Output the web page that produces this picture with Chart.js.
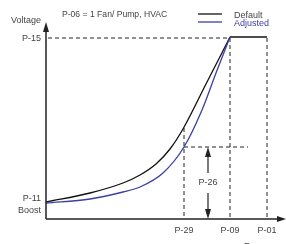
<!DOCTYPE html>
<html>
<head>
<meta charset="utf-8">
<script src="https://cdn.jsdelivr.net/npm/chart.js@4"></script>
<style>
  html, body { margin: 0; padding: 0; background: #fff; }
  #wrap { width: 286px; height: 244px; }
</style>
</head>
<body>
<div id="wrap"><canvas id="myChart" width="286" height="244"></canvas></div>
<script>
// curve points (frequency, voltage) in arbitrary units
const defaultFreq = [0, 44, 77, 94, 110, 124, 137, 160, 184];
const defaultVolt = [17, 26, 36, 44, 55, 70, 90, 135, 182];
const adjustedFreq = [0, 44, 77, 94, 117, 138, 156, 170, 184];
const adjustedVolt = [16, 20, 27, 32, 46, 72, 109, 146, 182];
// flat part after P-09 (both curves share it)
const topFreq = [184, 221];
const topVolt = [182, 182];

// parameter markers
const freqLabels = ['P-29', 'P-09', 'P-01'];
const freqValues = [138, 184, 221];
const voltLabels = ['P-15', 'P-11', 'Boost'];
const voltValues = [181, 17];
const p26Level = 72;       // voltage where P-26 horizontal sits
const p26Freq = 162;       // x of the P-26 arrow
const p26LineEnd = 202;    // end of the horizontal dashed line

const textColor = '#444';
const blue = '#3a3fa3';

function toPoints(xs, ys) {
  return xs.map((x, i) => ({ x: x, y: ys[i] }));
}

function dashLine(ctx, x1, y1, x2, y2) {
  ctx.save();
  ctx.setLineDash([4, 3]);
  ctx.strokeStyle = '#222';
  ctx.lineWidth = 1;
  ctx.beginPath();
  ctx.moveTo(x1, y1);
  ctx.lineTo(x2, y2);
  ctx.stroke();
  ctx.restore();
}

function arrowHead(ctx, x, y, dir) {
  // dir: 'up', 'down', 'right'
  ctx.beginPath();
  if (dir === 'up') {
    ctx.moveTo(x, y); ctx.lineTo(x - 3, y + 10); ctx.lineTo(x + 3, y + 10);
  } else if (dir === 'down') {
    ctx.moveTo(x, y); ctx.lineTo(x - 3, y - 10); ctx.lineTo(x + 3, y - 10);
  } else {
    ctx.moveTo(x, y); ctx.lineTo(x - 9, y - 3); ctx.lineTo(x - 9, y + 3);
  }
  ctx.closePath();
  ctx.fill();
}

// draws the axes, dashed guides, arrows and the labels
const diagramPlugin = {
  id: 'diagram',
  beforeDatasetsDraw(chart) {
    const ctx = chart.ctx;
    const xs = chart.scales.x;
    const ys = chart.scales.y;
    const x0 = xs.getPixelForValue(0);
    const y0 = ys.getPixelForValue(0);
    const topY = ys.getPixelForValue(voltValues[0]);
    const x29 = xs.getPixelForValue(freqValues[0]);
    const x09 = xs.getPixelForValue(freqValues[1]);
    const x01 = xs.getPixelForValue(freqValues[2]);
    const y26 = ys.getPixelForValue(p26Level);

    // guides
    dashLine(ctx, x0 + 2, topY, x09, topY);
    dashLine(ctx, x09, topY, x09, y0);
    dashLine(ctx, x01, topY, x01, y0);
    // P-29 vertical starts at the default curve
    dashLine(ctx, x29, ys.getPixelForValue(91), x29, y0);
    dashLine(ctx, x29, y26, xs.getPixelForValue(p26LineEnd), y26);
  },
  afterDatasetsDraw(chart) {
    const ctx = chart.ctx;
    const xs = chart.scales.x;
    const ys = chart.scales.y;
    const area = chart.chartArea;
    const x0 = xs.getPixelForValue(0);
    const y0 = ys.getPixelForValue(0);

    ctx.save();
    ctx.strokeStyle = '#222';
    ctx.fillStyle = '#222';
    ctx.lineWidth = 1.5;
    // y axis
    ctx.beginPath();
    ctx.moveTo(x0, y0);
    ctx.lineTo(x0, area.top + 4);
    ctx.stroke();
    arrowHead(ctx, x0, area.top, 'up');
    // x axis
    ctx.beginPath();
    ctx.moveTo(x0, y0);
    ctx.lineTo(area.right - 4, y0);
    ctx.stroke();
    arrowHead(ctx, area.right, y0, 'right');

    // P-26 arrow
    const ax = xs.getPixelForValue(p26Freq);
    const y26 = ys.getPixelForValue(p26Level);
    const midY = (y26 + y0) / 2;
    ctx.lineWidth = 1.2;
    ctx.beginPath();
    ctx.moveTo(ax, y26 + 6);
    ctx.lineTo(ax, midY - 10);
    ctx.moveTo(ax, midY + 10);
    ctx.lineTo(ax, y0 - 6);
    ctx.stroke();
    arrowHead(ctx, ax, y26, 'up');
    arrowHead(ctx, ax, y0, 'down');

    // texts
    ctx.font = '9px "Liberation Sans", Arial, sans-serif';
    ctx.fillStyle = textColor;
    ctx.textBaseline = 'middle';
    ctx.textAlign = 'center';
    ctx.fillText('P-26', ax, midY);
    freqLabels.forEach((lbl, i) => {
      ctx.fillText(lbl, xs.getPixelForValue(freqValues[i]), y0 + 12);
    });
    ctx.textAlign = 'left';
    ctx.fillText('Frequency', 244, y0 + 28);

    ctx.textAlign = 'right';
    ctx.fillText(voltLabels[0], 41, ys.getPixelForValue(voltValues[0]) + 1);
    ctx.fillText(voltLabels[1], 41, ys.getPixelForValue(voltValues[1]) - 3);
    ctx.fillText(voltLabels[2], 41, ys.getPixelForValue(voltValues[1]) + 9);
    ctx.fillText('Voltage', 41, 21);

    ctx.textAlign = 'left';
    ctx.font = '8.6px "Liberation Sans", Arial, sans-serif';
    ctx.fillText('P-06 = 1 Fan/ Pump, HVAC', 62, 15);

    // legend
    ctx.font = '9px "Liberation Sans", Arial, sans-serif';
    ctx.lineWidth = 1.3;
    ctx.strokeStyle = '#111';
    ctx.beginPath(); ctx.moveTo(198, 14); ctx.lineTo(222, 14); ctx.stroke();
    ctx.strokeStyle = blue;
    ctx.beginPath(); ctx.moveTo(198, 22); ctx.lineTo(222, 22); ctx.stroke();
    ctx.fillStyle = textColor;
    ctx.fillText('Default', 234, 16);
    ctx.fillStyle = blue;
    ctx.fillText('Adjusted', 234, 24);
    ctx.restore();
  }
};

new Chart(document.getElementById('myChart'), {
  type: 'line',
  data: {
    datasets: [
      {
        label: 'Adjusted',
        data: toPoints(adjustedFreq, adjustedVolt),
        borderColor: blue,
        borderWidth: 1.3,
        pointRadius: 0,
        cubicInterpolationMode: 'monotone',
        fill: false
      },
      {
        label: 'Default',
        data: toPoints(defaultFreq, defaultVolt),
        borderColor: '#111',
        borderWidth: 1.3,
        pointRadius: 0,
        cubicInterpolationMode: 'monotone',
        fill: false
      },
      {
        label: 'Top',
        data: toPoints(topFreq, topVolt),
        borderColor: '#111',
        borderWidth: 1.5,
        pointRadius: 0,
        tension: 0,
        fill: false
      }
    ]
  },
  options: {
    responsive: false,
    animation: false,
    events: [],
    layout: { padding: { left: 46, right: 0, top: 22, bottom: 25 } },
    plugins: { legend: { display: false }, tooltip: { enabled: false } },
    scales: {
      x: { type: 'linear', min: 0, max: 240, display: false },
      y: { type: 'linear', min: 0, max: 197, display: false }
    }
  },
  plugins: [diagramPlugin]
});
</script>
</body>
</html>
